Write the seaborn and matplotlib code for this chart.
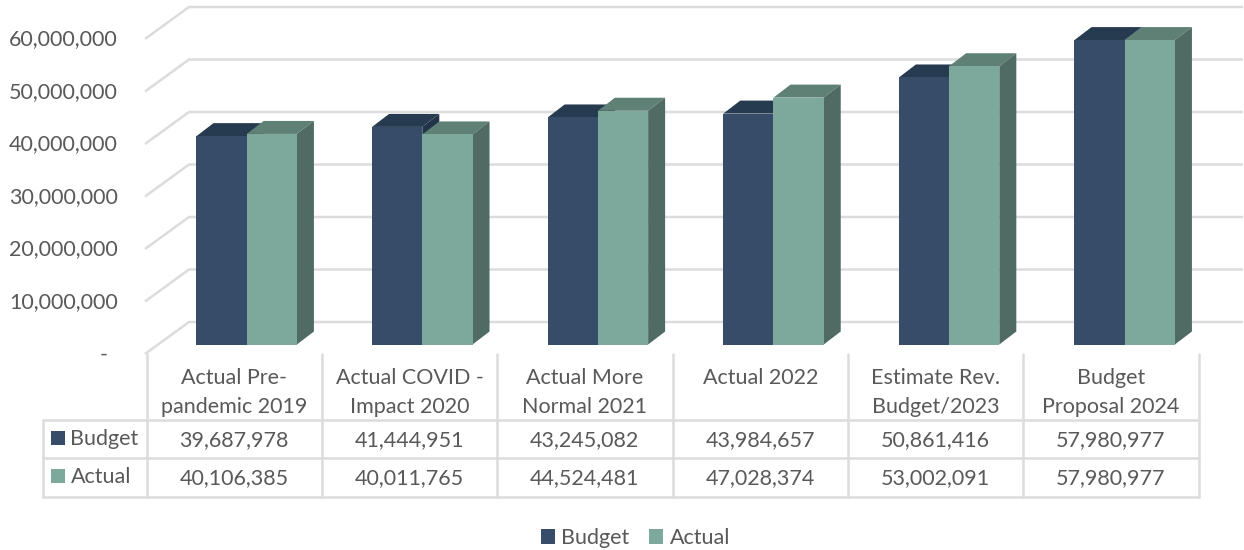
import numpy as np
import pandas as pd
import matplotlib
matplotlib.use('Agg')
import matplotlib.pyplot as plt
from matplotlib.patches import Polygon, Patch
import seaborn as sns

categories = ['Actual Pre-\npandemic 2019', 'Actual COVID -\nImpact 2020', 'Actual More\nNormal 2021',
              'Actual 2022\n', 'Estimate Rev.\nBudget/2023', 'Budget\nProposal 2024']
budget = [39687978, 41444951, 43245082, 43984657, 50861416, 57980977]
actual = [40106385, 40011765, 44524481, 47028374, 53002091, 57980977]
y_ticks = [0, 10000000, 20000000, 30000000, 40000000, 50000000, 60000000]
series = ['Budget', 'Actual']

front_colors = ['#364c68', '#7da89c']
top_colors = ['#263b50', '#5f8075']
side_colors = ['#213249', '#4f6b63']
text_color = '#595959'
grid_color = '#dcdcdc'
fs = 15.5

df = pd.DataFrame({'category': categories * 2,
                   'series': ['Budget'] * 6 + ['Actual'] * 6,
                   'value': budget + actual})

sns.set_theme(style='white')
plt.rcParams['font.family'] = ['Lato', 'DejaVu Sans']

W, H = 1244, 550
fig = plt.figure(figsize=(W / 100, H / 100), dpi=100)

#### pixel helper axes for the table
px = fig.add_axes([0, 0, 1, 1])
px.set_xlim(0, W)
px.set_ylim(H, 0)
px.axis('off')

#### plot axes: zero sits on the bar base line, 60M at the top of the front bars
left, right, base, top = 158.9, 1212.5, 344.5, 29.5
ax = fig.add_axes([left / W, 1 - base / H, (right - left) / W, (base - top) / H])
ax.patch.set_alpha(0)

sns.barplot(data=df, x='category', y='value', hue='series', hue_order=series, palette=front_colors,
            saturation=1, width=0.572, gap=0, dodge=True, legend=False, ax=ax, zorder=5, linewidth=0)
ax.set_xlim(-0.5, 5.5)
ax.set_ylim(0, 60000000)
ax.set_xlabel('')
ax.set_ylabel('')
ax.set_xticks([])
ax.set_yticks([])
sns.despine(ax=ax, left=True, bottom=True)

cat_px = (right - left) / 6
val_px = (base - top) / 60000000


def dx(p):
    return p / cat_px


def dy(p):
    return p / val_px


#### gridlines: wall diagonal then the back line
for t in y_ticks:
    xs = [dx(145 - left) - 0.5, dx(189 - left) - 0.5, dx(1243 - left) - 0.5]
    ys = [t + dy(base - 354), t + dy(base - 322), t + dy(base - 322)]
    ax.plot(xs, ys, color=grid_color, lw=1.8, clip_on=False, zorder=1, solid_capstyle='butt')

#### depth faces of the bars
bar_dx, bar_dy = dx(17), dy(13)
n = len(categories)
for s, cont in enumerate(ax.containers):
    for b in cont:
        x0, x1, h = b.get_x(), b.get_x() + b.get_width(), b.get_height()
        z = 2 + s
        ax.add_patch(Polygon([(x0, h), (x1, h), (x1 + bar_dx, h + bar_dy), (x0 + bar_dx, h + bar_dy)],
                             fc=top_colors[s], ec='none', clip_on=False, zorder=z))
        ax.add_patch(Polygon([(x1, 0), (x1 + bar_dx, bar_dy), (x1 + bar_dx, h + bar_dy), (x1, h)],
                             fc=side_colors[s], ec='none', clip_on=False, zorder=z))

#### y labels
for t in y_ticks:
    label = f'{t:,}' if t else '-'
    tx = 118 if t else 108
    px.text(tx, base + 10 - t * val_px, label, ha='right', va='center', fontsize=fs, color=text_color)

#### data table
col_x = [146.5 + i * 175.35 for i in range(7)]
rows_y = [420, 458, 496.5]
for x in col_x:
    px.plot([x, x], [354, rows_y[-1]], color=grid_color, lw=1.8)
px.plot([43, 43], [rows_y[0], rows_y[-1]], color=grid_color, lw=1.8)
for y in rows_y:
    px.plot([43, col_x[-1]], [y, y], color=grid_color, lw=1.8)

for i, c in enumerate(categories):
    cx = (col_x[i] + col_x[i + 1]) / 2
    line1, line2 = c.split('\n')
    px.text(cx, 378, line1, ha='center', va='center', fontsize=fs, color=text_color)
    px.text(cx, 407, line2, ha='center', va='center', fontsize=fs, color=text_color)
    px.text(cx, 440, f'{budget[i]:,}', ha='center', va='center', fontsize=fs, color=text_color)
    px.text(cx, 478, f'{actual[i]:,}', ha='center', va='center', fontsize=fs, color=text_color)

for s, name in enumerate(series):
    y = rows_y[s] + 18
    px.add_patch(Polygon([(51, y - 7), (65, y - 7), (65, y + 7), (51, y + 7)], fc=front_colors[s], ec='none'))
    px.text(70.5, y + 1, name, ha='left', va='center', fontsize=fs, color=text_color)

#### legend
handles = [Patch(fc=front_colors[i], ec='none', label=series[i]) for i in range(2)]
fig.legend(handles=handles, loc='center', bbox_to_anchor=(635.5 / W, 1 - 538 / H), ncol=2, frameon=False,
           fontsize=fs, labelcolor=text_color, handlelength=0.65, handleheight=0.65, handletextpad=0.28,
           columnspacing=0.93)

plt.savefig('out.png', dpi=100)
